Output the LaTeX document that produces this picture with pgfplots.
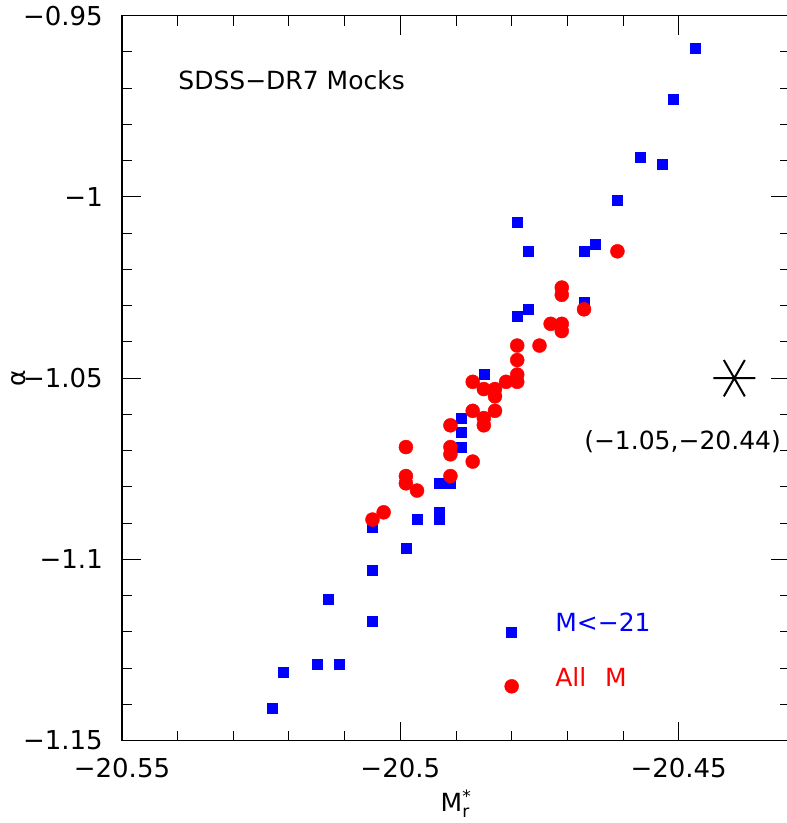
\documentclass[border=0pt]{standalone}
\usepackage{pgfplots}
\pgfplotsset{compat=1.18}
\usepackage{fontspec}
\setmainfont{DejaVu Sans}
\begin{document}
\begin{tikzpicture}
\begin{axis}[
  name=main,
  scale only axis, width=668pt, height=725pt,
  xmin=-20.55, xmax=-20.43, ymin=-1.15, ymax=-0.95,
  xtick={-20.55,-20.5,-20.45}, xticklabels={−20.55,−20.5,−20.45},
  ytick={-1.15,-1.1,-1.05,-1,-0.95}, yticklabels={−1.15,−1.1,−1.05,−1,−0.95},
  minor x tick num=4, minor y tick num=4,
  major tick length=19pt, minor tick length=10pt,
  tick align=inside,
  axis line style={line width=1.3pt},
  every tick/.style={black, line width=1pt},
  xticklabel style={font=\fontsize{26}{30}\selectfont, inner sep=0pt, yshift=-17pt},
  yticklabel style={font=\fontsize{26}{30}\selectfont, inner sep=0pt, xshift=-19pt},
  xlabel={M$_{\mbox{\fontsize{17}{17}\selectfont r}}^{\mbox{\fontsize{17}{17}\selectfont *}}$},
  xlabel style={at={(axis description cs:0.5,0)}, anchor=base, yshift=-71pt, inner sep=0pt, font=\fontsize{25}{30}\selectfont},
  ylabel={α},
  ylabel style={at={(axis description cs:-0.154,0.5)}, anchor=center, inner sep=0pt, font=\fontsize{25}{30}\selectfont},
  clip=false,
]
% M < -21 (blue squares)
\addplot[only marks, mark=square*, mark size=5pt, color=blue, mark options={draw=blue, fill=blue}] coordinates {
(-20.447,-0.959) (-20.451,-0.973) (-20.457,-0.989) (-20.453,-0.991)
(-20.461,-1.001) (-20.465,-1.013) (-20.467,-1.015) (-20.479,-1.007)
(-20.477,-1.015) (-20.467,-1.029) (-20.477,-1.031) (-20.479,-1.033)
(-20.485,-1.049) (-20.489,-1.061) (-20.489,-1.065) (-20.489,-1.069)
(-20.493,-1.079) (-20.491,-1.079) (-20.493,-1.087) (-20.493,-1.089)
(-20.497,-1.089) (-20.505,-1.091) (-20.499,-1.097) (-20.505,-1.103)
(-20.513,-1.111) (-20.505,-1.117) (-20.515,-1.129) (-20.511,-1.129)
(-20.521,-1.131) (-20.523,-1.141)
};
% All M (red circles)
\addplot[only marks, mark=*, mark size=7pt, color=red, mark options={draw=red, fill=red}] coordinates {
(-20.461,-1.015) (-20.471,-1.025) (-20.471,-1.027) (-20.467,-1.031)
(-20.473,-1.035) (-20.471,-1.035) (-20.471,-1.037) (-20.479,-1.041)
(-20.475,-1.041) (-20.479,-1.045) (-20.479,-1.049) (-20.479,-1.051)
(-20.481,-1.051) (-20.487,-1.051) (-20.485,-1.053) (-20.483,-1.053)
(-20.483,-1.055) (-20.487,-1.059) (-20.485,-1.061) (-20.485,-1.063)
(-20.483,-1.059) (-20.491,-1.063) (-20.491,-1.069) (-20.491,-1.071)
(-20.499,-1.069) (-20.487,-1.073) (-20.491,-1.077) (-20.499,-1.077)
(-20.499,-1.079) (-20.497,-1.081) (-20.503,-1.087) (-20.505,-1.089)
};
% legend markers
\addplot[only marks, mark=square*, mark size=5pt, color=blue, forget plot] coordinates {(-20.480,-1.120)};
\addplot[only marks, mark=*, mark size=7pt, color=red, forget plot] coordinates {(-20.480,-1.135)};
% star (observed)
\addplot[only marks, mark=asterisk, mark size=21pt, color=black, mark options={rotate=90, line width=2pt}] coordinates {(-20.44,-1.05)};

\node[anchor=west, inner sep=0pt, font=\fontsize{25}{30}\selectfont] at (axis cs:-20.5399,-0.9677) {SDSS−DR7 Mocks};
\node[anchor=west, inner sep=0pt, text=blue, font=\fontsize{25}{30}\selectfont] at (axis cs:-20.4722,-1.1173) {M<−21};
\node[anchor=west, inner sep=0pt, text=red, font=\fontsize{25}{30}\selectfont] at (axis cs:-20.4722,-1.1324) {All\hspace{0.75em}M};
\node[anchor=center, inner sep=0pt, font=\fontsize{25}{30}\selectfont] at (axis cs:-20.4493,-1.0674) {(−1.05,−20.44)};
\end{axis}
\pgfresetboundingbox
\path[use as bounding box] ([shift={(-122pt,-82.3pt)}]main.south west) rectangle ++(787pt,823pt);
\end{tikzpicture}
\end{document}
